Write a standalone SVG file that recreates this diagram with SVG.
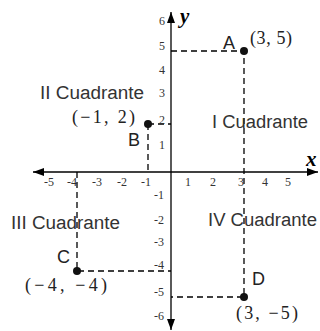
<svg xmlns="http://www.w3.org/2000/svg" width="320" height="331" viewBox="0 0 320 331">
  <defs>
    <marker id="arr" viewBox="0 0 11 8" refX="11" refY="4" markerWidth="11" markerHeight="8" markerUnits="userSpaceOnUse" orient="auto-start-reverse">
      <path d="M0,0 L11,4 L0,8 z" fill="#000"/>
    </marker>
    <style>
      .axis { stroke: #000; stroke-width: 1.3; fill: none; }
      .dash { stroke: #000; stroke-width: 1.3; stroke-dasharray: 6 4; fill: none; }
      .tick { font-family: "Liberation Serif", "DejaVu Serif", serif; font-size: 12px; fill: #333; }
      .quad { font-family: "Liberation Sans", Arial, sans-serif; font-size: 18px; fill: #333; }
      .pl { font-family: "Liberation Sans", Arial, sans-serif; font-size: 18px; fill: #222; }
      .coord { font-family: "Liberation Serif", "DejaVu Serif", serif; font-size: 18px; fill: #222; }
      .var { font-family: "Liberation Serif", "DejaVu Serif", serif; font-size: 21px; font-style: italic; font-weight: bold; fill: #000; }
      .pt { fill: #111; }
    </style>
  </defs>

  <g id="connectors">
    <path class="dash" d="M171,51 H244 V297 H171"/>
    <path class="dash" d="M148,124 V172 M148,124 H171"/>
    <path class="dash" d="M77,172 V271 H171"/>
  </g>

  <g id="axes">
    <line class="axis" x1="33" y1="172" x2="318" y2="172" marker-start="url(#arr)" marker-end="url(#arr)"/>
    <line class="axis" x1="171" y1="330" x2="171" y2="12" marker-start="url(#arr)" marker-end="url(#arr)"/>
    <text class="var" x="306" y="166">x</text>
    <text class="var" x="180" y="23">y</text>
  </g>

  <g id="ticks-x" class="tick" text-anchor="middle">
    <text x="49" y="186">-5</text>
    <text x="72" y="186">-4</text>
    <text x="97" y="186">-3</text>
    <text x="122" y="186">-2</text>
    <text x="146" y="186">-1</text>
    <text x="188" y="186">1</text>
    <text x="213" y="186">2</text>
    <text x="241" y="186">3</text>
    <text x="265" y="186">4</text>
    <text x="288" y="186">5</text>
  </g>

  <g id="ticks-y" class="tick" text-anchor="end">
    <text x="165" y="25">6</text>
    <text x="165" y="50">5</text>
    <text x="165" y="74">4</text>
    <text x="165" y="97">3</text>
    <text x="165" y="124">2</text>
    <text x="165" y="149">1</text>
    <text x="164" y="199">-1</text>
    <text x="164" y="224">-2</text>
    <text x="164" y="246">-3</text>
    <text x="164" y="269">-4</text>
    <text x="164" y="296">-5</text>
    <text x="164" y="320">-6</text>
  </g>

  <g id="quadrants" class="quad">
    <text x="40" y="99" textLength="104" lengthAdjust="spacingAndGlyphs">II Cuadrante</text>
    <text x="212" y="128" textLength="96" lengthAdjust="spacingAndGlyphs">I Cuadrante</text>
    <text x="11" y="229" textLength="109" lengthAdjust="spacingAndGlyphs">III Cuadrante</text>
    <text x="208" y="226" textLength="109" lengthAdjust="spacingAndGlyphs">IV Cuadrante</text>
  </g>

  <g id="pointA">
    <circle class="pt" cx="244" cy="51" r="4"/>
    <text class="pl" x="223" y="49">A</text>
    <text class="coord" x="250" y="44" textLength="42" lengthAdjust="spacing">(3, 5)</text>
  </g>
  <g id="pointB">
    <circle class="pt" cx="148" cy="124" r="4"/>
    <text class="pl" x="128" y="146">B</text>
    <text class="coord" x="72" y="123" textLength="63" lengthAdjust="spacing">(−1, 2)</text>
  </g>
  <g id="pointC">
    <circle class="pt" cx="77" cy="271" r="4"/>
    <text class="pl" x="57" y="263">C</text>
    <text class="coord" x="25" y="291" textLength="82" lengthAdjust="spacing">(−4, −4)</text>
  </g>
  <g id="pointD">
    <circle class="pt" cx="244" cy="297" r="4"/>
    <text class="pl" x="252" y="285">D</text>
    <text class="coord" x="236" y="319" textLength="62" lengthAdjust="spacing">(3, −5)</text>
  </g>
</svg>
